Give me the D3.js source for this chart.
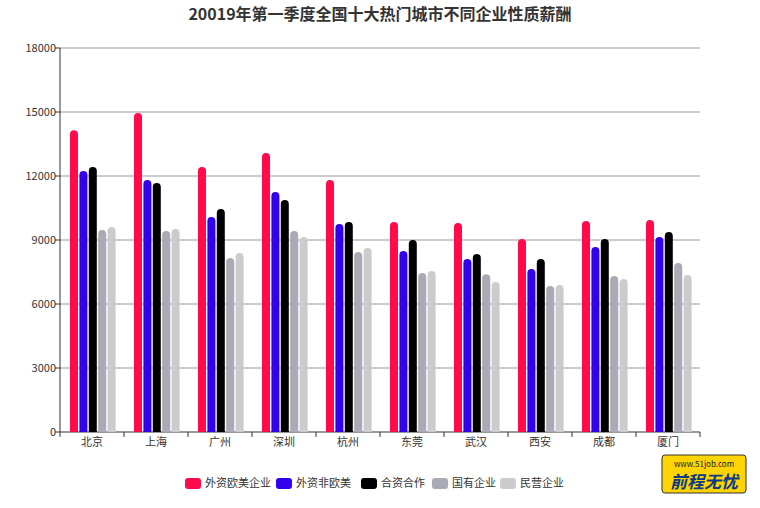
<!DOCTYPE html><html><head><meta charset="utf-8"><script src="https://cdn.jsdelivr.net/npm/d3@7"></script>
<style>body{margin:0;background:#fff;font-family:"Noto Sans CJK SC","Noto Sans",sans-serif}</style></head><body><svg id="c" width="760" height="508"></svg>
<script>
const categories=["北京","上海","广州","深圳","杭州","东莞","武汉","西安","成都","厦门"];
const seriesNames=["外资欧美企业","外资非欧美","合资合作","国有企业","民营企业"];
const colors=["#ff0a4b","#3300ee","#000000","#a8abb3","#cccccc"];
const s1=[14150,14950,12420,13080,11810,9845,9800,9050,9890,9940];
const s2=[12235,11810,10080,11250,9750,8485,8110,7640,8670,9140];
const s3=[12420,11670,10450,10875,9845,9000,8345,8110,9050,9375];
const s4=[9470,9420,8160,9420,8440,7455,7400,6845,7310,7920];
const s5=[9610,9515,8390,9140,8625,7550,7030,6890,7170,7360];
const series=[s1,s2,s3,s4,s5];
const yTicks=[0,3000,6000,9000,12000,15000,18000];
const svg=d3.select("#c");
const x=d3.scaleBand().domain(categories).range([60,700]);
const y=d3.scaleLinear().domain([0,18000]).range([432,48]);
svg.append("text").attr("x",380).attr("y",20).attr("text-anchor","middle").attr("font-size",16).attr("font-weight","bold").attr("fill","#333").text("20019年第一季度全国十大热门城市不同企业性质薪酬");
const g=svg.append("g");
yTicks.forEach(t=>{g.append("line").attr("x1",60).attr("x2",700).attr("y1",y(t)).attr("y2",y(t)).attr("stroke",t?"#999":"#333");
g.append("text").attr("x",56).attr("y",y(t)+4).attr("text-anchor","end").attr("font-size",11).attr("fill","#333").text(t);
g.append("line").attr("x1",55).attr("x2",60).attr("y1",y(t)).attr("y2",y(t)).attr("stroke","#333");});
g.append("line").attr("x1",60).attr("x2",60).attr("y1",48).attr("y2",432).attr("stroke","#333");
categories.forEach((c,i)=>{const cx=x(c)+x.bandwidth()/2;
g.append("line").attr("x1",x(c)).attr("x2",x(c)).attr("y1",432).attr("y2",437).attr("stroke","#333");
g.append("text").attr("x",cx).attr("y",446).attr("text-anchor","middle").attr("font-size",11).attr("fill","#333").text(c);
series.forEach((s,j)=>{const bx=x(c)+10+j*9.4,w=8,top=y(s[i]);
g.append("path").attr("d",`M${bx},432V${top+w/2}A${w/2},${w/2} 0 0 1 ${bx+w},${top+w/2}V432Z`).attr("fill",colors[j]);});});
g.append("line").attr("x1",700).attr("x2",700).attr("y1",432).attr("y2",437).attr("stroke","#333");
const lx=[185,276,361,432,500];
seriesNames.forEach((n,j)=>{svg.append("rect").attr("x",lx[j]).attr("y",478).attr("width",16).attr("height",11).attr("rx",3).attr("fill",colors[j]);
svg.append("text").attr("x",lx[j]+20).attr("y",487).attr("font-size",11).attr("fill","#333").text(n);});
const lg=svg.append("g").attr("transform","translate(662,455)");
lg.append("rect").attr("width",84).attr("height",38).attr("fill","#ffd400").attr("stroke","#333").attr("rx",3);
lg.append("text").attr("x",42).attr("y",12).attr("text-anchor","middle").attr("font-size",8).attr("fill","#123").text("www.51job.com");
lg.append("text").attr("x",42).attr("y",33).attr("text-anchor","middle").attr("font-size",17).attr("font-weight","bold").attr("font-style","italic").attr("fill","#0b3a8a").text("前程无忧");
</script></body></html>
